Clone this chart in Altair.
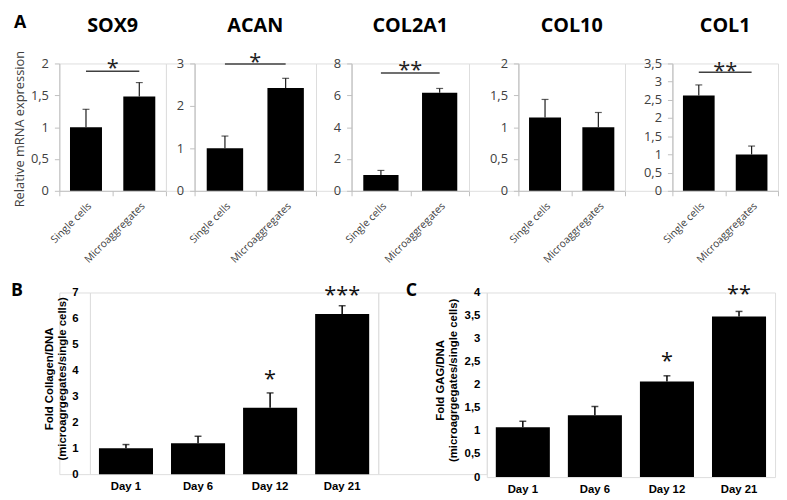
import altair as alt
import pandas as pd

# ---------------- data ----------------
groups = ["Single cells", "Microaggregates"]
genes = ["SOX9", "ACAN", "COL2A1", "COL10", "COL1"]
gene_means = [[1.0, 1.48], [1.0, 2.42], [1.0, 6.16], [1.15, 1.0], [2.62, 1.0]]
gene_errs = [[0.28, 0.22], [0.29, 0.23], [0.28, 0.27], [0.285, 0.23], [0.29, 0.23]]
gene_ymax = [2, 3, 8, 2, 3.5]
gene_ystep = [0.5, 1, 2, 0.5, 0.5]
sig_text = ["*", "*", "**", "", "**"]
sig_line = [1.876, 2.99, 7.4, None, 3.26]
sig_star = [2.0, 3.14, 7.88, None, 3.42]

days = ["Day 1", "Day 6", "Day 12", "Day 21"]
collagen = [1.0, 1.19, 2.56, 6.17]
collagen_err = [0.14, 0.27, 0.57, 0.32]
collagen_stars = ["", "", "*", "***"]
collagen_star_y = [1.0, 1.0, 3.84, 7.08]

gag = [1.08, 1.34, 2.07, 3.48]
gag_err = [0.13, 0.19, 0.125, 0.11]
gag_stars = ["", "", "*", "**"]
gag_star_y = [1.0, 1.0, 2.61, 4.07]

# ---------------- layout ----------------
top_h = 129
top_widths = [108, 123, 119, 108, 107]
top_gaps = [29, 36, 50, 48]
bot_lead = 31
bot_gap = 110
b_w, b_h = 292, 184
c_w, c_h = 292, 187
row_gap = 103

SANS = "Open Sans"
ARIAL = "Liberation Sans"
GRAY = "#404040"
AXIS_GRAY = "#bfbfbf"


def ticks(ymax, step):
    out, v = [], 0.0
    while v <= ymax + 1e-9:
        out.append(round(v, 3))
        v += step
    return out


COMMA = "replace(format(datum.value, '~g'), '.', ',')"


def letter(txt, dx, dy):
    return alt.Chart(pd.DataFrame({"t": [txt]})).mark_text(
        font=SANS, fontSize=18, fontWeight="bold", align="left",
        baseline="alphabetic", color="black"
    ).encode(x=alt.value(dx), y=alt.value(dy), text="t:N")


def gene_panel(i):
    w = top_widths[i]
    df = pd.DataFrame({"group": groups, "value": gene_means[i], "err": gene_errs[i]})
    df["top"] = df["value"] + df["err"]
    xscale = alt.Scale(domain=groups, paddingInner=0, paddingOuter=0)
    xaxis = alt.Axis(
        title=None, labelAngle=-45, labelFont=SANS, labelFontSize=10.5,
        labelColor=GRAY, domainColor=AXIS_GRAY, tickColor=AXIS_GRAY,
        tickSize=5, tickBand="extent", labelPadding=5, labelOverlap=False,
    )
    yaxis_kwargs = dict(
        values=ticks(gene_ymax[i], gene_ystep[i]), labelExpr=COMMA,
        labelFont=SANS, labelFontSize=13, labelColor=GRAY,
        domainColor=AXIS_GRAY, tickColor=AXIS_GRAY, tickSize=5,
        labelPadding=6, grid=False, labelOverlap=False,
    )
    if i == 0:
        yaxis = alt.Axis(
            title="Relative mRNA expression", titleFont=SANS, titleFontSize=13,
            titleFontWeight="normal", titleColor=GRAY, titleX=-36, titleY=66,
            titleAlign="center", titleBaseline="alphabetic", **yaxis_kwargs
        )
    else:
        yaxis = alt.Axis(title=None, **yaxis_kwargs)
    yscale = alt.Scale(domain=[0, gene_ymax[i]], nice=False, zero=True)

    def X(field):
        return alt.X(field, type="nominal", scale=xscale, axis=xaxis, sort=groups)

    def Y(field):
        return alt.Y(field, type="quantitative", scale=yscale, axis=yaxis)

    base = alt.Chart(df)
    bars = base.mark_bar(color="black", width=alt.RelativeBandSize(0.6)).encode(
        x=X("group"), y=Y("value"))
    err = base.mark_rule(color="#1a1a1a", strokeWidth=1.2).encode(
        x=X("group"), y=Y("value"), y2="top:Q")
    cap = base.mark_tick(color="#1a1a1a", size=7, thickness=1.2).encode(
        x=X("group"), y=Y("top"))
    layers = [bars, err, cap]
    if sig_text[i]:
        sdf = pd.DataFrame({"group": [groups[0]], "g2": [groups[1]],
                            "ly": [sig_line[i]], "sy": [sig_star[i]], "t": [sig_text[i]]})
        line = alt.Chart(sdf).mark_rule(color=GRAY, strokeWidth=1.5).encode(
            x=X("group"), x2="g2:N", y=Y("ly"))
        star = alt.Chart(sdf).mark_text(
            font=SANS, fontSize=22, color="#222", baseline="middle", dy=5
        ).encode(x=alt.value(w / 2), y=Y("sy"), text="t:N")
        layers += [line, star]
    tdf = pd.DataFrame({"g": [genes[i]]})
    title = alt.Chart(tdf).mark_text(
        font=SANS, fontSize=20, fontWeight="bold", color="black",
        baseline="alphabetic", align="center"
    ).encode(x=alt.value(w / 2), y=alt.value(-32), text="g:N")
    layers.append(title)
    if i == 0:
        layers.append(letter("A", -46, -36))
    return alt.layer(*layers).properties(width=w, height=top_h)


def day_panel(vals, errs, stars, star_y, ymax, step, w, h, ytitle, title_x, lab_pad, let, let_dx):
    df = pd.DataFrame({"day": days, "value": vals, "err": errs, "star": stars, "sy": star_y})
    df["top"] = df["value"] + df["err"]
    xscale = alt.Scale(domain=days, paddingInner=0.25, paddingOuter=0.125)
    xaxis = alt.Axis(
        title=None, labelAngle=0, labelFont=ARIAL, labelFontSize=11.5,
        labelFontWeight="bold", labelColor="black", domain=False, ticks=False,
        labelPadding=7, labelOverlap=False,
    )
    yaxis = alt.Axis(
        values=ticks(ymax, step), labelExpr=COMMA, labelFont=ARIAL,
        labelFontSize=11.5, labelFontWeight="bold", labelColor="black",
        domain=False, ticks=False, grid=False, labelPadding=lab_pad,
        labelOverlap=False,
        title=ytitle, titleFont=ARIAL, titleFontSize=11.5, titleFontWeight="bold",
        titleColor="black", titleX=title_x, titleY=h / 2 - 5, titleAlign="center",
        titleBaseline="alphabetic", titleLineHeight=13,
    )
    yscale = alt.Scale(domain=[0, ymax], nice=False)

    def X(field):
        return alt.X(field, type="nominal", scale=xscale, axis=xaxis, sort=days)

    def Y(field):
        return alt.Y(field, type="quantitative", scale=yscale, axis=yaxis)

    base = alt.Chart(df)
    bars = base.mark_bar(color="black").encode(x=X("day"), y=Y("value"))
    err = base.mark_rule(color="black", strokeWidth=1.5).encode(
        x=X("day"), y=Y("value"), y2="top:Q")
    cap = base.mark_tick(color="black", size=7, thickness=1.5).encode(
        x=X("day"), y=Y("top"))
    star = base.mark_text(font=SANS, fontSize=22, color="#111", baseline="middle", dy=5).encode(
        x=X("day"), y=Y("sy"), text="star:N")
    return alt.layer(bars, err, cap, star, letter(let, let_dx, 4)).properties(width=w, height=h)


def spacer(w, h):
    return alt.Chart(pd.DataFrame({"s": [""]})).mark_text().encode(
        x=alt.value(0), y=alt.value(0), text="s:N"
    ).properties(width=w, height=h)


top_items = []
for i in range(5):
    top_items.append(gene_panel(i))
    if i < 4:
        top_items.append(spacer(top_gaps[i], top_h))
top_row = alt.hconcat(*top_items, bounds="flush", spacing=0)

bottom_row = alt.hconcat(
    spacer(bot_lead, b_h),
    day_panel(collagen, collagen_err, collagen_stars, collagen_star_y, 7, 1,
              b_w, b_h, ["Fold Collagen/DNA", "(microagrgegates/single cells)"],
              -38, 12, "B", -80),
    spacer(bot_gap, b_h),
    day_panel(gag, gag_err, gag_stars, gag_star_y, 4, 0.5,
              c_w, c_h, ["Fold GAG/DNA", "(microagrgegates/single cells)"],
              -44, 7, "C", -82),
    bounds="flush", spacing=0,
)

chart = alt.vconcat(
    top_row, bottom_row, bounds="flush", spacing=top_h + row_gap,
).properties(
    padding={"left": 2, "top": 2, "right": 0, "bottom": 0}
).configure_view(strokeWidth=0).configure(background="white")

chart.save("out.html", embed_options={"renderer": "svg", "actions": False})
